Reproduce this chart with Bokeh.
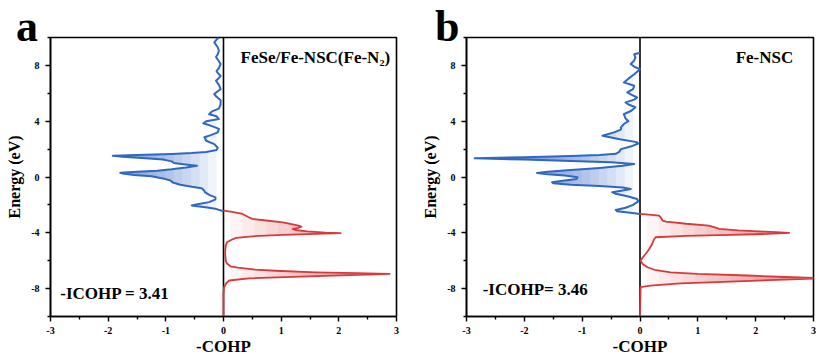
import numpy as np
from bokeh.plotting import figure
from bokeh.models import Range1d, FixedTicker, Label, Span, Div
from bokeh.layouts import row
from bokeh.embed import file_html
from bokeh.resources import INLINE

# ---------------- data ----------------
x_ticks = [-3, -2, -1, 0, 1, 2, 3]
x_tick_labels = ["-3", "-2", "-1", "0", "1", "2", "3"]
x_minor = [-2.5, -1.5, -0.5, 0.5, 1.5, 2.5]
y_ticks = [-8, -4, 0, 4, 8]
y_tick_labels = ["-8", "-4", "0", "4", "8"]
y_minor = [-10, -6, -2, 2, 6, 10]

a_blue_E = [-2.45, -2.3, -2.2, -2.1, -2.04, -1.95, -1.8, -1.6, -1.46, -1.3, -1.1, -0.95, -0.8, -0.7,
            -0.55, -0.4, -0.25, -0.1, 0.05, 0.15, 0.25, 0.3, 0.38, 0.45, 0.55, 0.68, 0.8, 0.92, 1.0,
            1.12, 1.25, 1.35, 1.45, 1.52, 1.58, 1.65, 1.72, 1.8, 1.93, 2.1, 2.36, 2.6, 2.85, 3.0,
            3.2, 3.45, 3.65, 3.85, 4.0, 4.15, 4.35, 4.5, 4.7, 4.9, 5.2, 5.5, 5.75, 5.95, 6.15, 6.3,
            6.6, 6.9, 7.1, 7.25, 7.45, 7.6, 7.8, 8.1, 8.3, 8.6, 8.8, 9.05, 9.3, 9.65, 9.85, 10.0]
a_blue_cohp = [0.0, -0.12, -0.25, -0.45, -0.55, -0.45, -0.25, -0.14, -0.14, -0.24, -0.32, -0.34, -0.38,
               -0.55, -0.75, -0.88, -0.92, -1.05, -1.25, -1.55, -1.75, -1.79, -1.5, -1.15, -0.9, -0.65,
               -0.46, -0.7, -0.86, -0.9, -1.05, -1.35, -1.75, -1.92, -1.5, -0.9, -0.55, -0.3, -0.12,
               -0.1, -0.16, -0.3, -0.33, -0.22, -0.1, -0.08, -0.2, -0.35, -0.3, -0.08, -0.12, -0.25,
               -0.2, -0.08, -0.05, -0.05, -0.12, -0.16, -0.1, -0.05, -0.08, -0.13, -0.08, -0.05, -0.1,
               -0.12, -0.08, -0.05, -0.08, -0.13, -0.1, -0.08, -0.1, -0.16, -0.12, -0.08]

a_red_E = [-10.0, -8.4, -7.9, -7.6, -7.42, -7.26, -7.11, -7.0, -6.94, -6.89, -6.83, -6.72, -6.64,
           -6.5, -6.4, -6.2, -6.0, -5.6, -5.27, -4.9, -4.68, -4.5, -4.37, -4.25, -4.15, -4.08, -4.03,
           -3.99, -3.9, -3.8, -3.72, -3.64, -3.56, -3.48, -3.4, -3.25, -3.1, -3.0, -2.85, -2.65,
           -2.5, -2.41]
a_red_cohp = [0.0, 0.0, 0.01, 0.05, 0.1, 0.44, 1.6, 2.5, 2.88, 2.3, 1.6, 0.9, 0.55, 0.25, 0.12, 0.06,
              0.04, 0.03, 0.03, 0.04, 0.06, 0.14, 0.22, 0.5, 1.03, 1.6, 2.03, 1.77, 1.45, 1.25, 1.2,
              1.3, 1.35, 1.3, 1.2, 1.03, 0.7, 0.5, 0.42, 0.33, 0.15, 0.0]

b_blue_E = [-2.65, -2.55, -2.45, -2.36, -2.2, -2.0, -1.75, -1.58, -1.4, -1.2, -1.1, -1.0, -0.86, -0.75,
            -0.65, -0.55, -0.45, -0.38, -0.3, -0.15, -0.02, 0.1, 0.2, 0.29, 0.38, 0.5, 0.65, 0.8,
            0.93, 1.05, 1.15, 1.25, 1.34, 1.42, 1.5, 1.58, 1.66, 1.8, 2.0, 2.2, 2.4, 2.5, 2.7, 2.96,
            3.2, 3.4, 3.56, 3.8, 4.0, 4.2, 4.5, 4.75, 5.0, 5.2, 5.35, 5.55, 5.7, 5.9, 6.06, 6.3,
            6.54, 6.78, 7.05, 7.37, 7.73, 7.9, 8.1, 8.35, 8.57, 8.8, 8.9]
b_blue_cohp = [0.0, -0.2, -0.4, -0.42, -0.25, -0.12, -0.03, -0.05, -0.2, -0.42, -0.48, -0.35, -0.16,
               -0.3, -0.7, -1.2, -1.5, -1.52, -1.4, -1.1, -1.08, -1.3, -1.6, -1.78, -1.6, -1.2, -0.7,
               -0.3, -0.1, -0.5, -1.2, -2.0, -2.86, -2.0, -1.2, -0.7, -0.42, -0.36, -0.33, -0.15,
               -0.03, -0.06, -0.35, -0.65, -0.45, -0.33, -0.33, -0.28, -0.2, -0.25, -0.28, -0.15,
               -0.08, -0.2, -0.25, -0.1, -0.05, -0.15, -0.22, -0.12, -0.1, -0.28, -0.2, -0.1, 0.0,
               -0.1, -0.16, -0.1, -0.08, -0.1, 0.0]

b_red_E = [-10.0, -7.9, -7.78, -7.62, -7.5, -7.35, -7.26, -7.17, -7.06, -6.95, -6.83, -6.65, -6.47,
           -6.25, -6.0, -5.75, -5.5, -5.16, -4.8, -4.5, -4.32, -4.22, -4.15, -4.08, -4.0, -3.95,
           -3.91, -3.82, -3.72, -3.6, -3.48, -3.35, -3.2, -3.13, -2.9, -2.77, -2.7, -2.65]
b_red_cohp = [0.0, 0.01, 0.18, 0.7, 1.57, 2.5, 3.2, 2.5, 1.86, 1.0, 0.53, 0.25, 0.13, 0.05, 0.01,
              0.05, 0.1, 0.16, 0.21, 0.24, 0.27, 0.8, 1.57, 2.2, 2.58, 2.35, 2.15, 1.7, 1.37, 1.28,
              1.19, 0.8, 0.45, 0.39, 0.36, 0.33, 0.15, 0.0]

# ---------------- style ----------------
FONT = "Liberation Serif"
BLUE = "#2f67c2"
RED = "#d8393b"
BLUE_FILL = "#2f67c2"
RED_FILL = "#e03b3b"


def panel(tag, tag_x, icohp, icohp_x, icohp_y, bE, bc, rE, rc, left_b, right_b, fw):
    p = figure(frame_width=fw, frame_height=279, output_backend="svg", toolbar_location=None,
               x_range=Range1d(-3, 3), y_range=Range1d(-10, 10),
               min_border_left=left_b, min_border_right=right_b,
               min_border_top=37, min_border_bottom=44)
    p.background_fill_color = "white"
    p.border_fill_color = None
    p.outline_line_color = "black"
    p.outline_line_width = 1.6
    p.xgrid.grid_line_color = None
    p.ygrid.grid_line_color = None

    for ax in (p.xaxis[0], p.yaxis[0]):
        ax.axis_line_width = 1.6
        ax.axis_line_color = "black"
        ax.major_tick_line_width = 1.4
        ax.minor_tick_line_width = 1.4
        ax.major_tick_in = 0
        ax.major_tick_out = 5
        ax.minor_tick_in = 0
        ax.minor_tick_out = 3
        ax.major_label_text_font = FONT
        ax.major_label_text_font_style = "bold"
        ax.major_label_text_font_size = "10px"
        ax.major_label_text_color = "black"
        ax.axis_label_text_font = FONT
        ax.axis_label_text_font_style = "bold"
        ax.axis_label_text_color = "black"

    p.xaxis.ticker = FixedTicker(ticks=x_ticks, minor_ticks=x_minor)
    p.xaxis.major_label_overrides = dict(zip(x_ticks, x_tick_labels))
    p.yaxis.ticker = FixedTicker(ticks=y_ticks, minor_ticks=y_minor)
    p.yaxis.major_label_overrides = dict(zip(y_ticks, y_tick_labels))
    p.xaxis.axis_label = "-COHP"
    p.xaxis.axis_label_text_font_size = "17px"
    p.xaxis.axis_label_standoff = 0
    p.xaxis.major_label_standoff = 5
    p.yaxis.axis_label = "Energy (eV)"
    p.yaxis.axis_label_text_font_size = "16px"
    p.yaxis.axis_label_standoff = 5
    p.yaxis.major_label_standoff = 6

    bE = np.array(bE); bc = np.array(bc)
    rE = np.array(rE); rc = np.array(rc)

    # gradient-like fills (stacked translucent layers fading toward zero)
    for t in np.linspace(-0.12, -1.9, 13):
        p.harea(x1=bc, x2=np.maximum(bc, t), y=bE, fill_color=BLUE_FILL, fill_alpha=0.07)
    for t in np.linspace(0.12, 2.6, 13):
        p.harea(x1=rc, x2=np.minimum(rc, t), y=rE, fill_color=RED_FILL, fill_alpha=0.05)

    p.add_layout(Span(location=0, dimension="height", line_color="black", line_width=1.6,
                      level="underlay"))

    p.line(bc, bE, line_color=BLUE, line_width=2.0, line_join="round")
    p.line(rc, rE, line_color=RED, line_width=1.8, line_join="round")

    p.add_layout(Label(x=tag_x, y=8.55, text=tag, text_font=FONT, text_font_style="bold",
                       text_font_size="17px", text_color="black", text_align="right",
                       text_baseline="middle"))
    p.add_layout(Label(x=icohp_x, y=icohp_y, text=icohp, text_font=FONT, text_font_style="bold",
                       text_font_size="17px", text_color="black", text_align="left",
                       text_baseline="middle"))
    return p


def panel_letter(letter, left_px):
    return Div(text=letter, width=0, height=0, margin=0,
               styles={"position": "relative", "left": f"{left_px}px", "top": "5px",
                       "font-family": "Liberation Serif", "font-weight": "bold",
                       "font-size": "44px", "line-height": "44px", "overflow": "visible",
                       "z-index": "10", "white-space": "nowrap", "color": "black"})


pa = panel("FeSe/Fe-NSC(Fe-N\u2082)", 2.89, "-ICOHP = 3.41", -2.83, -8.36,
           a_blue_E, a_blue_cohp, a_red_E, a_red_cohp, 50, 16, 346)
pb = panel("Fe-NSC", 2.65, "-ICOHP= 3.46", -2.72, -8.06,
           b_blue_E, b_blue_cohp, b_red_E, b_red_cohp, 54, 8, 347)

layout = row(panel_letter("a", 16), pa, panel_letter("b", 23), pb, spacing=0)
open("out.html", "w").write(file_html(layout, INLINE))
